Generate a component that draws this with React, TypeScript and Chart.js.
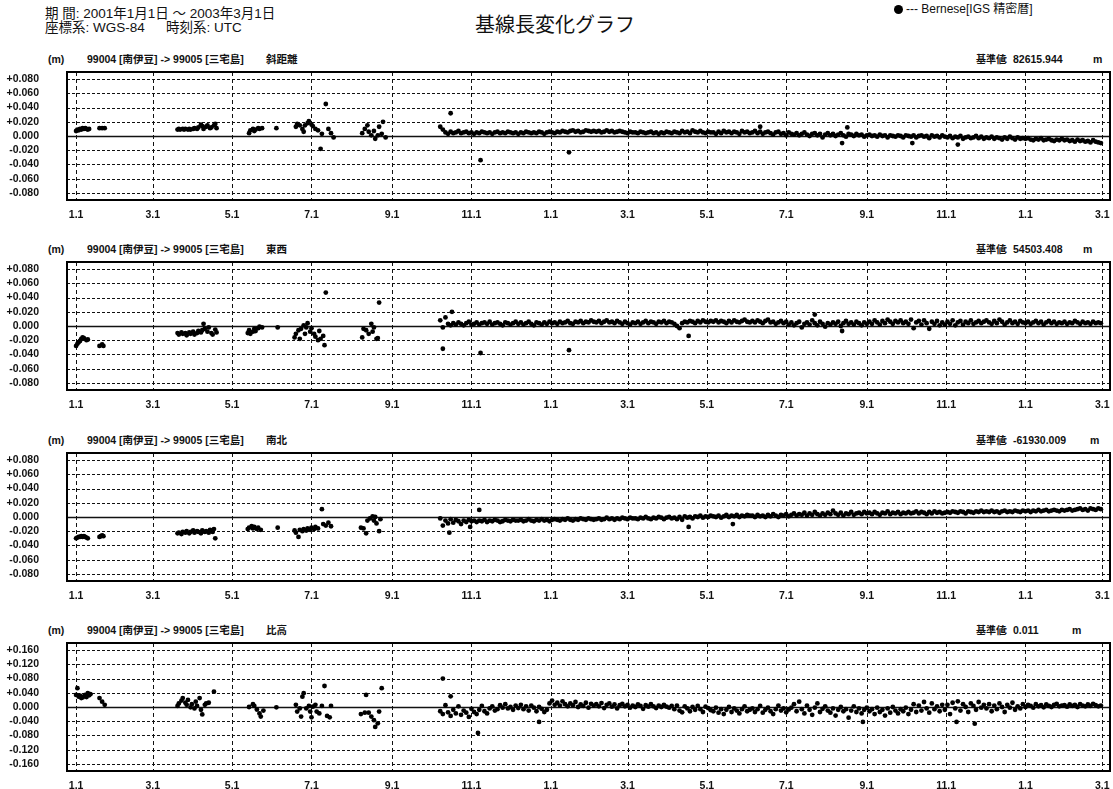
import React, { useEffect, useRef } from 'react';
import { Chart, registerables } from 'chart.js';
Chart.register(...registerables);

const FONT = '"Liberation Sans", Arial, "Noto Sans CJK JP", sans-serif';

// x axis: days since 2001-01-01
const xTickDays = [0, 59, 120, 181, 243, 304, 365, 424, 485, 546, 608, 669, 730, 789];
const xTickLabels = ['1.1', '3.1', '5.1', '7.1', '9.1', '11.1', '1.1', '3.1', '5.1', '7.1', '9.1', '11.1', '1.1', '3.1'];
const X_MIN = -7;
const X_MAX = 795;

const yTicksSmall = [0.08, 0.06, 0.04, 0.02, 0, -0.02, -0.04, -0.06, -0.08];
const yTicksLarge = [0.16, 0.12, 0.08, 0.04, 0, -0.04, -0.08, -0.12, -0.16];

const panelTitles = ['斜距離', '東西', '南北', '比高'];
const refValues = ['82615.944', '54503.408', '-61930.009', '0.011'];

// dense daily section: every 2 days from day 280 (values in mm)
const DENSE_START = 280;
const DENSE_STEP = 2;

// ---- panel 1 : 斜距離 (mm) ----
const p1Early: [number, number][] = [
  [0, 7], [1, 9], [2, 8], [3, 10], [4, 9], [5, 11], [6, 10], [7, 11], [8, 10], [9, 9], [10, 10],
  [18, 11], [20, 11], [22, 11],
  [78, 9], [79, 10], [80, 9], [82, 10], [83, 9], [84, 10], [86, 9], [87, 10], [88, 9], [90, 10], [91, 11], [93, 10], [94, 12], [96, 16], [97, 14], [98, 10], [100, 13], [101, 15], [103, 11], [104, 12], [106, 15], [107, 17], [108, 11],
  [133, 4], [134, 8], [136, 10], [137, 7], [138, 9], [140, 11], [141, 10], [143, 11], [154, 11],
  [169, 13], [170, 17], [172, 15], [174, 10], [175, 6], [176, 15], [178, 18], [179, 21], [181, 16], [182, 14], [184, 10], [186, 8], [188, -18], [189, 3], [192, 45], [194, 10], [196, 4], [198, -2],
  [220, 4], [222, 10], [224, 15], [225, 6], [227, 1], [229, 7], [230, -4], [232, 1], [233, 13], [235, 3], [236, 20], [238, -2],
];
const p1Dense = [
  13, 9, 5, 3, 6, 4, 5, 7, 4, 5, 6, 4, 5, 3, 5,
  4, 6, 5, 4, 5, 3, 5, 6, 4, 5, 4, 6, 5, 4, 5,
  3, 5, 4, 6, 5, 4, 5, 4, 6, 5, 3, 5, 6, 5, 4,
  6, 5, 7, 6, 5, 7, 8, 6, 7, 5, 6, 8, 7, 6, 7,
  6, 7, 5, 6, 8, 6, 7, 5, 6, 7, 6, 5, 4, 6, 5,
  5, 4, 6, 5, 4, 5, 6, 4, 5, 3, 5, 4, 6, 5, 4,
  6, 5, 4, 7, 5, 6, 4, 8, 6, 5, 7, 5, 4, 6, 5,
  5, 3, 6, 4, 7, 5, 6, 4, 6, 5, 3, 7, 5, 6, 4,
  5, 7, 4, 6, 3, 5, 6, 4, 2, 5, 6, 3, 4, 1, 5,
  3, 2, 4, 1, 3, 5, 2, 0, 3, 4, 1, 3, -2, 2, 4,
  1, 3, 0, 2, 4, 1, -1, 3, 2, 0, 3, 1, 2, -1, 1,
  2, 0, 1, -1, 2, 0, 1, -2, 1, 0, -1, 1, 0, -2, 1,
  0, -1, 1, -2, 0, 1, -1, 0, -3, 1, -1, 0, -2, 1, -1,
  -2, 0, -3, -1, -2, 0, -4, -2, -1, -3, -2, 0, -3, -1, -4,
  -2, -3, -1, -4, -2, -3, -5, -2, -4, -1, -3, -5, -2, -4, -3,
  -4, -3, -5, -6, -4, -5, -3, -6, -5, -4, -6, -7, -5, -6, -4,
  -6, -5, -7, -6, -8, -5, -7, -6, -8, -7, -9, -6, -8, -9, -10,
];
const p1Extra: [number, number][] = [
  [288, 32], [311, -34], [379, -23], [526, 13], [589, -10], [593, 12], [643, -10], [678, -12],
];

// ---- panel 2 : 東西 (mm) ----
const p2Early: [number, number][] = [
  [0, -28], [1, -25], [2, -23], [3, -21], [4, -18], [5, -16], [6, -17], [8, -20], [9, -19],
  [18, -28], [20, -26], [21, -28],
  [78, -10], [79, -12], [81, -9], [82, -11], [84, -10], [85, -13], [87, -9], [88, -11], [90, -8], [91, -12], [93, -10], [94, -7], [96, -9], [97, -6], [98, 3], [99, -4], [101, -8], [102, -2], [104, -10], [105, -12], [107, -5], [108, -9],
  [132, -10], [133, -6], [134, -11], [136, -8], [137, -4], [138, -7], [140, -3], [141, -1], [143, -2], [155, -2],
  [168, -16], [169, -11], [171, -6], [172, -18], [173, -4], [175, 1], [176, -11], [177, -2], [178, 4], [180, -8], [181, -3], [183, -11], [184, -15], [186, -20], [187, -7], [188, -18], [190, -14], [191, -27], [192, 47],
  [220, -16], [221, -4], [223, -6], [225, -11], [227, 3], [228, -8], [229, -2], [231, -18], [232, -17], [233, 33],
];
const p2Dense = [
  8, -2, 12, 3, 1, 4, 2, 5, 3, 1, 4, 6, 2, 3, 5,
  2, 4, 5, 3, 6, 2, 4, 5, 3, 1, 5, 4, 2, 4, 6,
  3, 5, 2, 4, 6, 3, 1, 5, 4, 2, 5, 3, 6, 4, 5,
  3, 6, 4, 5, 7, 4, 3, 6, 5, 7, 4, 6, 5, 8, 6,
  5, 7, 4, 6, 8, 5, 6, 4, 7, 5, 3, 6, 4, 2, 5,
  4, 6, 3, 5, 7, 4, 6, 5, 3, 6, 5, 7, 4, 6, 5,
  3, 0, -3, 4, 6, 5, 7, 6, 4, 7, 5, 8, 6, 5, 7,
  6, 8, 5, 7, 6, 4, 7, 5, 8, 6, 5, 7, 9, 6, 5,
  7, 5, 8, 6, 4, 7, 9, 5, 6, 3, 5, 7, 4, 6, 2,
  5, 1, 4, 6, -2, 3, 5, 2, 8, 4, 1, 6, 3, -1, 4,
  2, 5, 3, 6, 0, 4, 7, 3, 5, 2, 6, 4, 1, 5, 3,
  6, 3, 8, 5, 2, 7, 4, 9, 6, 3, 7, 5, 8, 4, 6,
  3, 9, -3, 5, 7, 2, 8, 4, -4, 6, 3, 7, 1, 5, 2,
  6, 3, 8, 1, 5, 7, 2, 6, 4, 8, 3, 5, 7, 4, 6,
  8, 5, 3, 7, 4, 9, 6, 2, 5, 8, 4, 6, 3, 7, 5,
  4, 6, 3, 5, 7, 4, 6, 2, 5, 7, 4, 6, 3, 5, 4,
  6, 3, 5, 4, 7, 5, 3, 6, 4, 5, 3, 6, 4, 5, 4,
];
const p2Extra: [number, number][] = [
  [282, -32], [289, 20], [311, -38], [379, -34], [471, -14], [568, 16], [589, -7],
];

// ---- panel 3 : 南北 (mm) ----
const p3Early: [number, number][] = [
  [0, -30], [1, -29], [2, -28], [3, -28], [4, -27], [5, -28], [6, -27], [7, -28], [8, -29], [9, -30],
  [18, -28], [19, -27], [20, -26], [21, -27],
  [78, -23], [79, -22], [81, -24], [82, -21], [84, -22], [85, -20], [87, -23], [88, -21], [90, -19], [91, -22], [93, -20], [94, -21], [96, -23], [97, -19], [99, -21], [100, -20], [102, -22], [103, -18], [105, -21], [106, -17], [107, -30],
  [132, -17], [133, -15], [135, -13], [136, -16], [137, -14], [139, -17], [140, -15], [142, -18], [155, -15],
  [168, -19], [169, -22], [171, -28], [172, -18], [174, -20], [175, -17], [177, -19], [178, -16], [180, -18], [181, -15], [183, -17], [184, -14], [186, -16], [189, 11], [190, -10], [192, -12], [194, -8], [196, -13],
  [219, -15], [221, -16], [223, -23], [224, -5], [226, -2], [228, 1], [229, -5], [230, 0], [231, -9], [233, -20], [234, -3],
];
const p3Dense = [
  -2, -12, -5, -9, -3, -8, -4, -6, -10, -5, -7, -4, -6, -5, -7,
  -5, -6, -4, -7, -5, -6, -4, -5, -7, -6, -4, -5, -6, -4, -5,
  -5, -4, -6, -5, -3, -5, -6, -4, -5, -3, -5, -4, -6, -4, -3,
  -4, -5, -3, -4, -2, -4, -5, -3, -4, -2, -3, -4, -2, -3, -4,
  -3, -2, -4, -3, -1, -3, -2, -4, -2, -3, -1, -2, -3, -1, -2,
  -2, -3, -1, -2, 0, -2, -3, -1, -2, 0, -1, -3, -1, 0, -2,
  -1, -3, 0, -4, 1, -1, 0, -2, 1, 0, 2, -1, 1, 0, 2,
  1, 0, 2, -1, 1, 3, 0, 2, 1, 3, 0, 2, 1, 3, 2,
  2, 0, 3, 1, 2, 0, 3, 1, 4, 2, 0, 3, 2, 4, 1,
  3, 5, 2, 4, 3, 6, 2, 5, 3, 7, 4, 2, 5, 3, 6,
  4, 9, 5, 3, 6, 2, 5, 4, 7, 3, 5, 6, 4, 7, 5,
  6, 4, 7, 5, 3, 6, 5, 8, 4, 6, 5, 7, 4, 6, 5,
  7, 5, 6, 8, 5, 7, 6, 4, 7, 5, 8, 6, 7, 5, 6,
  7, 6, 8, 7, 6, 8, 7, 5, 8, 7, 6, 8, 7, 9, 7,
  8, 7, 9, 7, 8, 6, 8, 9, 7, 8, 7, 9, 8, 7, 9,
  8, 9, 7, 9, 8, 10, 8, 9, 10, 8, 9, 10, 9, 8, 10,
  9, 10, 11, 9, 10, 11, 12, 10, 11, 9, 12, 11, 10, 12, 11,
];
const p3Extra: [number, number][] = [
  [287, -22], [303, -14], [310, 10], [471, -14], [505, -10],
];

// ---- panel 4 : 比高 (mm) ----
const p4Early: [number, number][] = [
  [0, 34], [1, 53], [2, 29], [3, 32], [4, 25], [5, 27], [6, 30], [7, 34], [8, 28], [9, 39], [10, 33], [11, 36],
  [18, 25], [20, 15], [22, 6],
  [78, 3], [79, 10], [81, 18], [82, 25], [84, 12], [85, 6], [86, 20], [88, -1], [89, 8], [91, -4], [92, 15], [93, 3], [95, 25], [96, -8], [97, -21], [99, 6], [100, 10], [102, 12], [106, 43],
  [133, 0], [136, 8], [137, 3], [139, -7], [141, -18], [142, -27], [144, -10], [154, -1],
  [169, 6], [170, -13], [172, -4], [173, -27], [174, 29], [175, 39], [177, -4], [179, 3], [180, -13], [181, -29], [182, 1], [184, 6], [185, -13], [187, -18], [189, 3], [191, 59], [193, -25], [195, -29], [196, 3],
  [219, -20], [222, -16], [223, 34], [225, -16], [227, -27], [229, -37], [230, -56], [232, -46], [233, -13], [235, 53],
];
const p4Dense = [
  -12, -20, 5, -15, -25, -8, -18, 2, -22, -10, -16, -28, -5, -14, -20,
  -8, 3, -12, -18, -4, 2, -10, -6, 5, -2, 8, -4, 0, -8, 4,
  -3, 6, -6, 2, -10, 4, -2, -12, 0, -5, -14, -8, 10, 18, 6,
  12, 4, 16, 8, 2, 10, 5, 14, 0, 7, 3, 12, -2, 9, 4,
  8, 2, 11, -3, 6, 10, 1, 7, -4, 5, 9, 2, 6, -2, 4,
  0, 7, 3, -5, 5, 1, 8, 2, -3, 4, 0, 6, 1, -2, 3,
  -6, 4, -10, -15, 2, -4, -12, 0, -8, 3, -6, -14, 1, -3, -9,
  -12, -2, -16, -6, -20, -8, 0, -14, -4, -10, -18, -6, 2, -12, -8,
  -4, -14, -6, 3, -16, -8, -2, -12, -20, -6, 4, -10, -4, -15, -7,
  -2, 8, -12, 15, -6, -18, 4, -8, -22, -2, 10, -14, -5, 2, -10,
  -16, -4, -24, -8, 0, -12, -6, -30, -10, 2, -14, -4, -18, -8, -2,
  -12, -6, -20, -2, -14, -8, -24, -4, -16, 0, -10, -18, -6, -12, -2,
  -20, -8, 8, -14, 4, -10, 14, -4, -16, 10, -6, 2, -12, 6, -8,
  6, -20, 12, -4, 16, -10, 8, 0, -14, 10, 3, -8, 14, -2, 6,
  -4, 8, -12, 4, -6, 10, 0, -14, 6, -2, 12, -8, 2, -4, 8,
  0, 6, 3, -2, 8, 2, 5, -1, 7, 3, 0, 6, 9, 2, 4,
  5, 1, 7, 3, 6, 0, 8, 4, 2, 7, 3, 9, 5, 2, 4,
];
const p4Extra: [number, number][] = [
  [282, 80], [288, 30], [309, -73], [356, -42], [605, -42], [677, -42], [691, -47],
];

function buildPoints(early: [number, number][], dense: number[], extra: [number, number][]) {
  const pts: { x: number; y: number }[] = [];
  early.forEach(([d, mm]) => pts.push({ x: d, y: mm / 1000 }));
  dense.forEach((mm, i) => pts.push({ x: DENSE_START + i * DENSE_STEP, y: mm / 1000 }));
  extra.forEach(([d, mm]) => pts.push({ x: d, y: mm / 1000 }));
  return pts;
}

const panelData = [
  buildPoints(p1Early, p1Dense, p1Extra),
  buildPoints(p2Early, p2Dense, p2Extra),
  buildPoints(p3Early, p3Dense, p3Extra),
  buildPoints(p4Early, p4Dense, p4Extra),
];
const panelTicks = [yTicksSmall, yTicksSmall, yTicksSmall, yTicksLarge];
const panelRange = [0.09, 0.09, 0.09, 0.18];

// layout
const PANEL_TOPS = [72, 262, 453, 643];
const M_LEFTS = [1093, 1083, 1090, 1072];
const CANVAS_W = 1113;
const PAD_TOP = 4;
const BOX_H = 128;
const X_AXIS_H = 18;
const CANVAS_H = PAD_TOP + BOX_H + X_AXIS_H;

const framePlugin = {
  id: 'frame',
  beforeDatasetsDraw(chart: any) {
    const { ctx, chartArea: a, scales } = chart;
    const xs = scales.x;
    const ys = scales.y;
    ctx.save();
    ctx.strokeStyle = '#111';
    ctx.lineWidth = 1;
    ctx.setLineDash([3, 2]);
    ys.ticks.forEach((t: any) => {
      if (t.value === 0) return;
      const y = Math.round(ys.getPixelForValue(t.value)) + 0.5;
      ctx.beginPath();
      ctx.moveTo(a.left, y);
      ctx.lineTo(a.right, y);
      ctx.stroke();
    });
    ctx.setLineDash([4, 3]);
    xs.ticks.forEach((t: any) => {
      const x = Math.round(xs.getPixelForValue(t.value)) + 0.5;
      ctx.beginPath();
      ctx.moveTo(x, a.top);
      ctx.lineTo(x, a.bottom);
      ctx.stroke();
    });
    ctx.setLineDash([]);
    ctx.lineWidth = 1.3;
    const y0 = Math.round(ys.getPixelForValue(0)) + 0.5;
    ctx.beginPath();
    ctx.moveTo(a.left, y0);
    ctx.lineTo(a.right, y0);
    ctx.stroke();
    ctx.restore();
  },
  afterDatasetsDraw(chart: any) {
    const { ctx, chartArea: a } = chart;
    ctx.save();
    ctx.strokeStyle = '#000';
    ctx.lineWidth = 2;
    ctx.strokeRect(a.left, a.top, a.right - a.left, a.bottom - a.top);
    ctx.restore();
  },
};

function fmtY(v: number) {
  if (Math.abs(v) < 1e-9) return '0.000';
  return (v > 0 ? '+' : '') + v.toFixed(3);
}

function Panel({ index }: { index: number }) {
  const ref = useRef<HTMLCanvasElement>(null);
  useEffect(() => {
    const ticks = panelTicks[index];
    const range = panelRange[index];
    const tickFont = { family: FONT, size: 10.5, weight: 'bold' as const };
    const chart = new Chart(ref.current as HTMLCanvasElement, {
      type: 'scatter',
      data: {
        datasets: [
          {
            data: panelData[index],
            backgroundColor: '#000',
            borderColor: '#000',
            pointRadius: 2.4,
            pointBorderWidth: 0,
            pointHoverRadius: 2.4,
          },
        ],
      },
      options: {
        animation: false,
        responsive: false,
        maintainAspectRatio: false,
        events: [],
        layout: { padding: { top: PAD_TOP, right: 3, left: 0, bottom: 0 } },
        plugins: { legend: { display: false }, tooltip: { enabled: false }, title: { display: false } },
        scales: {
          x: {
            type: 'linear',
            min: X_MIN,
            max: X_MAX,
            afterBuildTicks: (s: any) => {
              s.ticks = xTickDays.map((v) => ({ value: v }));
            },
            afterFit: (s: any) => {
              s.height = X_AXIS_H;
              s.paddingLeft = 0;
              s.paddingRight = 0;
            },
            ticks: {
              autoSkip: false,
              maxRotation: 0,
              padding: 1,
              color: '#111',
              font: tickFont,
              callback: (v: any) => xTickLabels[xTickDays.indexOf(Number(v))],
            },
            grid: { display: false },
            border: { display: false },
          },
          y: {
            type: 'linear',
            min: -range,
            max: range,
            afterBuildTicks: (s: any) => {
              s.ticks = ticks.map((v) => ({ value: v }));
            },
            afterFit: (s: any) => {
              s.width = 67;
              s.paddingTop = 0;
              s.paddingBottom = 0;
            },
            ticks: {
              padding: 20,
              color: '#111',
              font: tickFont,
              callback: (v: any) => fmtY(Number(v)),
            },
            grid: { display: false },
            border: { display: false },
          },
        },
      },
      plugins: [framePlugin],
    } as any);
    return () => chart.destroy();
  }, [index]);
  return (
    <canvas
      ref={ref}
      width={CANVAS_W}
      height={CANVAS_H}
      style={{ position: 'absolute', left: 0, top: PANEL_TOPS[index] - PAD_TOP, width: CANVAS_W, height: CANVAS_H }}
    />
  );
}

function T({ x, y, size, bold, children }: { x: number; y: number; size: number; bold?: boolean; children: React.ReactNode }) {
  return (
    <div
      style={{
        position: 'absolute',
        left: x,
        top: y - size * 0.6,
        fontSize: size,
        lineHeight: `${size * 1.2}px`,
        fontWeight: bold ? 700 : 400,
        whiteSpace: 'nowrap',
        fontFamily: FONT,
        color: '#111',
      }}
    >
      {children}
    </div>
  );
}

export default function App() {
  return (
    <div style={{ position: 'absolute', left: 0, top: 0, width: 1113, height: 789, background: '#fff', overflow: 'hidden' }}>
      <T x={45} y={14.5} size={13.5}>期 間: 2001年1月1日 ～ 2003年3月1日</T>
      <T x={45} y={28.5} size={13.5}>座標系: WGS-84</T>
      <T x={166} y={28.5} size={13.5}>時刻系: UTC</T>
      <T x={475} y={24.5} size={20}>基線長変化グラフ</T>
      <div style={{ position: 'absolute', left: 894, top: 5, width: 9, height: 9, borderRadius: '50%', background: '#000' }} />
      <T x={906} y={9.5} size={12}>--- Bernese[IGS 精密暦]</T>
      {PANEL_TOPS.map((top, i) => (
        <React.Fragment key={i}>
          <T x={48} y={top - 12.5} size={10.5} bold>(m)</T>
          <T x={87} y={top - 12.5} size={10.5} bold>99004 [南伊豆] -&gt; 99005 [三宅島]</T>
          <T x={266} y={top - 12.5} size={10.5} bold>{panelTitles[i]}</T>
          <T x={976} y={top - 12.5} size={10} bold>基準値</T>
          <T x={1004} y={top - 12.5} size={10.5} bold>:</T>
          <T x={1013} y={top - 12.5} size={10.5} bold>{refValues[i]}</T>
          <T x={M_LEFTS[i]} y={top - 12.5} size={10.5} bold>m</T>
          <Panel index={i} />
        </React.Fragment>
      ))}
    </div>
  );
}
